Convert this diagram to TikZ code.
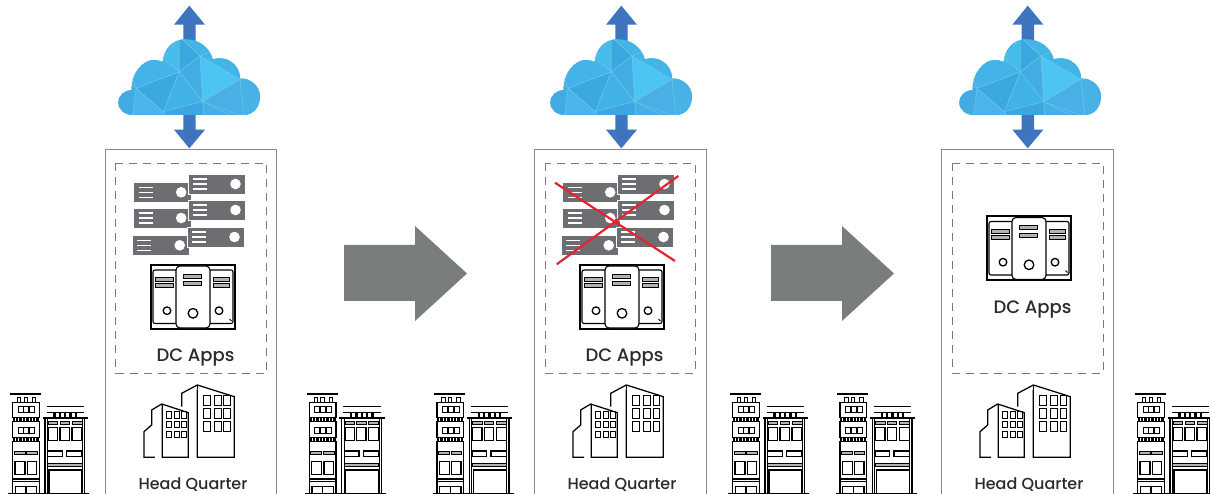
\documentclass[tikz,border=0pt]{standalone}
\usepackage{fontspec}
\setmainfont{Poppins}
\newfontfamily\lblfont{Poppins Medium}
\definecolor{srv}{HTML}{6D6E71}
\definecolor{bigarrow}{HTML}{7A7D7D}
\definecolor{updown}{HTML}{3E75BF}
\definecolor{boxline}{HTML}{8A8A8A}
\definecolor{dashline}{HTML}{7A7A7A}
\definecolor{xred}{HTML}{E8222E}
\definecolor{labelc}{HTML}{2B2B2B}
\definecolor{facetline}{HTML}{7CCBEC}
\tikzset{
 x=1pt,y=-1pt,
 hqbox/.style={draw=boxline,line width=0.85pt},
 dcbox/.style={draw=dashline,line width=0.9pt,dash pattern=on 8pt off 6pt},
 dclabel/.style={font=\lblfont\fontsize{18}{20}\selectfont,text=labelc,inner sep=0pt,anchor=center},
 hqlabel/.style={font=\lblfont\fontsize{16}{18}\selectfont,text=labelc,inner sep=0pt,anchor=center},
 ink/.style={draw=black,line width=1.25pt,line join=miter,fill=none},
 thin ink/.style={draw=black,line width=0.9pt},
 facet/.style={draw=facetline,line width=0.3pt},
 updownpic/.pic={
  \begin{scope}[scale=1/3]
  \fill[updown] (268,17) -- (315,74) -- (287,74) -- (287,125) -- (250,125) -- (250,74) -- (222,74) -- cycle;
  \fill[updown] (268,445) -- (315,389) -- (287,389) -- (287,335) -- (250,335) -- (250,389) -- (222,389) -- cycle;
  \end{scope}
 },
 cloudpic/.pic={
  \begin{scope}[scale=1/3]
  \clip (100,345) .. controls (75,345) and (55,330) .. (55,308) .. controls (55,285) and (75,270) .. (95,270) .. controls (92,220) and (130,180) .. (160,180) .. controls (170,180) and (180,182) .. (188,186) .. controls (190,150) and (215,118) .. (255,118) .. controls (300,118) and (330,145) .. (338,178) .. controls (375,165) and (420,190) .. (420,235) .. controls (455,235) and (480,260) .. (480,290) .. controls (480,320) and (460,345) .. (432,345) -- cycle;
  \fill[fill={rgb,255:red,68;green,176;blue,228}] (40,100) rectangle (500,360);
  \filldraw[facet,fill={rgb,255:red,69;green,189;blue,235}] (188,175) -- (238,110) -- (238,215) -- cycle;
  \filldraw[facet,fill={rgb,255:red,58;green,168;blue,224}] (238,110) -- (300,168) -- (238,215) -- cycle;
  \filldraw[facet,fill={rgb,255:red,68;green,180;blue,229}] (238,110) -- (345,110) -- (345,175) -- (300,168) -- cycle;
  \filldraw[facet,fill={rgb,255:red,65;green,173;blue,227}] (238,215) -- (300,168) -- (308,305) -- cycle;
  \filldraw[facet,fill={rgb,255:red,76;green,197;blue,243}] (300,168) -- (420,238) -- (308,305) -- cycle;
  \filldraw[facet,fill={rgb,255:red,66;green,180;blue,230}] (300,168) -- (345,150) -- (430,190) -- (420,238) -- cycle;
  \filldraw[facet,fill={rgb,255:red,72;green,176;blue,228}] (420,238) -- (432,350) -- (308,305) -- cycle;
  \filldraw[facet,fill={rgb,255:red,70;green,178;blue,230}] (420,238) -- (500,230) -- (500,350) -- (432,350) -- cycle;
  \filldraw[facet,fill={rgb,255:red,64;green,178;blue,230}] (238,215) -- (308,305) -- (190,335) -- cycle;
  \filldraw[facet,fill={rgb,255:red,58;green,169;blue,224}] (238,215) -- (190,335) -- (108,265) -- cycle;
  \filldraw[facet,fill={rgb,255:red,74;green,181;blue,232}] (108,265) -- (190,335) -- (200,350) -- (97,350) -- cycle;
  \filldraw[facet,fill={rgb,255:red,68;green,180;blue,232}] (188,175) -- (238,215) -- (108,265) -- (95,230) -- (125,185) -- cycle;
  \filldraw[facet,fill={rgb,255:red,66;green,172;blue,226}] (40,230) -- (108,265) -- (97,350) -- (40,350) -- cycle;
  \filldraw[facet,fill={rgb,255:red,60;green,166;blue,222}] (190,335) -- (308,305) -- (312,350) -- (200,350) -- cycle;
  \filldraw[facet,fill={rgb,255:red,68;green,176;blue,228}] (308,305) -- (400,350) -- (312,350) -- cycle;
  \end{scope}
 },
 serverbar/.pic={
  \filldraw[fill=srv,draw=white,line width=0.6pt] (0,0) rectangle (57.5,20);
  \foreach \ly in {5,10,15} \draw[white,line width=1.4pt] (5,\ly) -- (19,\ly);
  \fill[white] (47.5,10) circle (5.3);
 },
 serverpic/.pic={
  \pic at (0,8.3) {serverbar};
  \pic at (0,34) {serverbar};
  \pic at (-1.5,61.3) {serverbar};
  \pic at (54.3,0) {serverbar};
  \pic at (54.3,26) {serverbar};
  \pic at (53.3,53) {serverbar};
 },
 slot/.style={draw=black,fill=black!30,line width=1pt},
 appspic/.pic={
  \draw[black,line width=2pt] (0,0) rectangle (84,64);
  \draw[thin ink,line width=1.1pt,rounded corners=2pt] (25,5) -- (2,5) -- (2,58.5) -- (25,58.5);
  \draw[thin ink,line width=1.1pt,rounded corners=2pt] (59,5) -- (82,5) -- (82,58.5) -- (59,58.5);
  \filldraw[thin ink,line width=1.1pt,fill=white,rounded corners=4pt] (25,1) rectangle (59,63);
  \filldraw[slot] (4.6,12.7) rectangle (22,16.7);
  \filldraw[slot] (4.6,19) rectangle (22,23);
  \filldraw[slot] (32.3,9.3) rectangle (50.3,13.3);
  \filldraw[slot] (32.3,17) rectangle (50.3,21);
  \filldraw[slot] (62,12.7) rectangle (78.6,16.7);
  \filldraw[slot] (62,19) rectangle (78.6,23);
  \draw[black,line width=1.3pt] (16,45.7) circle (3.8);
  \draw[black,line width=1.3pt] (42,48.3) circle (4.8);
  \draw[black,line width=1.3pt] (68,45.7) circle (3.8);
  \draw[black,line width=0.8pt] (78.5,54) -- (80.5,56);
 },
 shoppic/.pic={
  \begin{scope}[scale=1/3]
  % left tower
  \draw[black,line width=1.2pt] (30,42) -- (123,42);
  \foreach \cx in {52,72,97} \draw[thin ink] (\cx,66) -- (\cx,52) -- (\cx+10,52) -- (\cx+10,66);
  \draw[ink] (38,68) rectangle (118,112);
  \foreach \cx in {54,71,89} \draw[thin ink] (\cx,79) rectangle (\cx+15,97);
  \draw[black,line width=2.6pt,dash pattern=on 2.4pt off 1pt] (38,118) -- (118,118);
  \draw[ink] (38,125) rectangle (118,172);
  \foreach \cx in {54,71,89} \draw[thin ink] (\cx,141) rectangle (\cx+15,159);
  \draw[black,line width=2.6pt,dash pattern=on 2.4pt off 1pt] (38,178) -- (118,178);
  \draw[ink] (38,350) -- (38,185) -- (118,185) -- (118,350);
  \filldraw[slot,line width=0.8pt] (42,215) rectangle (75,222);
  \filldraw[slot,line width=0.8pt] (80,215) rectangle (112,222);
  \draw[ink] (45,245) rectangle (75,283);
  \draw[ink] (82,245) rectangle (110,283);
  \draw[black,line width=2pt] (40,297) -- (116,297);
  \draw[black,line width=1.2pt] (40,305) -- (116,305);
  \draw[ink] (46,350) -- (46,320) -- (110,320) -- (110,350);
  \draw[ink] (78,320) -- (78,350);
  % right building
  \draw[black,line width=1.2pt] (140,80) -- (252,80);
  \draw[black,line width=1.2pt] (140,97) -- (252,97);
  \foreach \cx in {160,176,192,208,224} \fill[black] (\cx,100) rectangle (\cx+7,112);
  \draw[black,line width=1.6pt] (128,114) -- (264,114);
  \draw[ink] (135,350) -- (135,114);
  \draw[thin ink] (142,350) -- (142,114);
  \draw[thin ink] (247,114) -- (247,350);
  \draw[ink] (254,114) -- (254,350);
  \foreach \cx/\cw in {145/28,180/28,216/30} {
    \filldraw[slot,line width=0.8pt] (\cx,124) rectangle (\cx+\cw,133);
    \draw[ink] (\cx,142) rectangle (\cx+\cw,182);
  }
  \draw[ink] (143,213) rectangle (187,230);
  \draw[ink] (200,213) rectangle (246,230);
  \filldraw[slot,line width=0.8pt] (143,251) rectangle (246,259);
  \draw[ink] (147,350) -- (147,270) -- (246,270) -- (246,350);
  \draw[black,line width=1.1pt] (25,341) -- (268,341);
  \end{scope}
 },
 hqpic/.pic={
  \begin{scope}[scale=1/3]
  \draw[ink] (545,80) -- (545,40) -- (592,15) -- (703,50) -- (703,232) -- (592,232) -- (592,28);
  \draw[ink] (592,15) -- (592,28);
  \foreach \rx in {611,644,672} \foreach \ry in {45,84,124}
    \draw[thin ink,line width=1pt] (\rx,\ry) rectangle (\rx+20,\ry+30);
  \draw[ink] (465,232) -- (432,232) -- (432,155) -- (455,135) -- (455,90) -- (485,72) -- (565,98) -- (565,232) -- (487,232) -- (487,72);
  \foreach \rx in {499,524,544} \foreach \ry/\rh in {94/22,124/18,154/18}
    \draw[thin ink] (\rx,\ry) rectangle (\rx+14,\ry+\rh);
  \end{scope}
 },
 bigarrowshape/.style={fill=bigarrow},
}
\begin{document}
\begin{tikzpicture}
\path[use as bounding box] (0,0) rectangle (1210,494);
\fill[white] (0,0) rectangle (1210,494);
% headquarters boxes
\draw[hqbox] (105,500) -- (105,149) -- (276,149) -- (276,500);
\draw[hqbox] (534,500) -- (534,149) -- (706,149) -- (706,500);
\draw[hqbox] (941,500) -- (941,149) -- (1113,149) -- (1113,500);
\draw[dcbox] (115.5,163) rectangle (266,373);
\draw[dcbox] (545,163) rectangle (695,373);
\draw[dcbox] (952,163) rectangle (1103,373);
% clouds
\pic at (100,0) {updownpic}; \pic at (100,0) {cloudpic};
\pic at (532,0) {updownpic}; \pic at (532,0) {cloudpic};
\pic at (938.4,0) {updownpic}; \pic at (941,0) {cloudpic};
% servers
\pic at (133.7,174) {serverpic};
\pic at (562.7,174) {serverpic};
% red cross
\draw[xred,line width=2.2pt] (555,182.7) -- (675,261);
\draw[xred,line width=2.2pt] (678.3,176) -- (556.7,264.3);
% apps
\pic at (151,265) {appspic};
\pic at (580,265) {appspic};
\pic at (987,216.5) {appspic};
\node[dclabel] (dc1) at (195.5,357.5) {DC Apps};
\node[dclabel] (dc2) at (624.5,357.5) {DC Apps};
\node[dclabel] (dc3) at (1032.5,310) {DC Apps};
% big arrows
\fill[bigarrowshape] (344,245) -- (415,245) -- (415,226) -- (467,273.5) -- (415,321) -- (415,301) -- (344,301) -- cycle;
\fill[bigarrowshape] (771,245) -- (842,245) -- (842,226) -- (894,273.5) -- (842,321) -- (842,301) -- (771,301) -- cycle;
% head-quarter icons
\pic at (0,380) {hqpic};
\pic at (429,380) {hqpic};
\pic at (836,380) {hqpic};
\node[hqlabel] (hq1) at (193,484.5) {Head Quarter};
\node[hqlabel] (hq2) at (622,484.5) {Head Quarter};
\node[hqlabel] (hq3) at (1029,484.5) {Head Quarter};
% shops
\foreach \sx in {0,296.7,424.3,720,827.3,1125} \pic at (\sx,380) {shoppic};
\end{tikzpicture}
\end{document}
